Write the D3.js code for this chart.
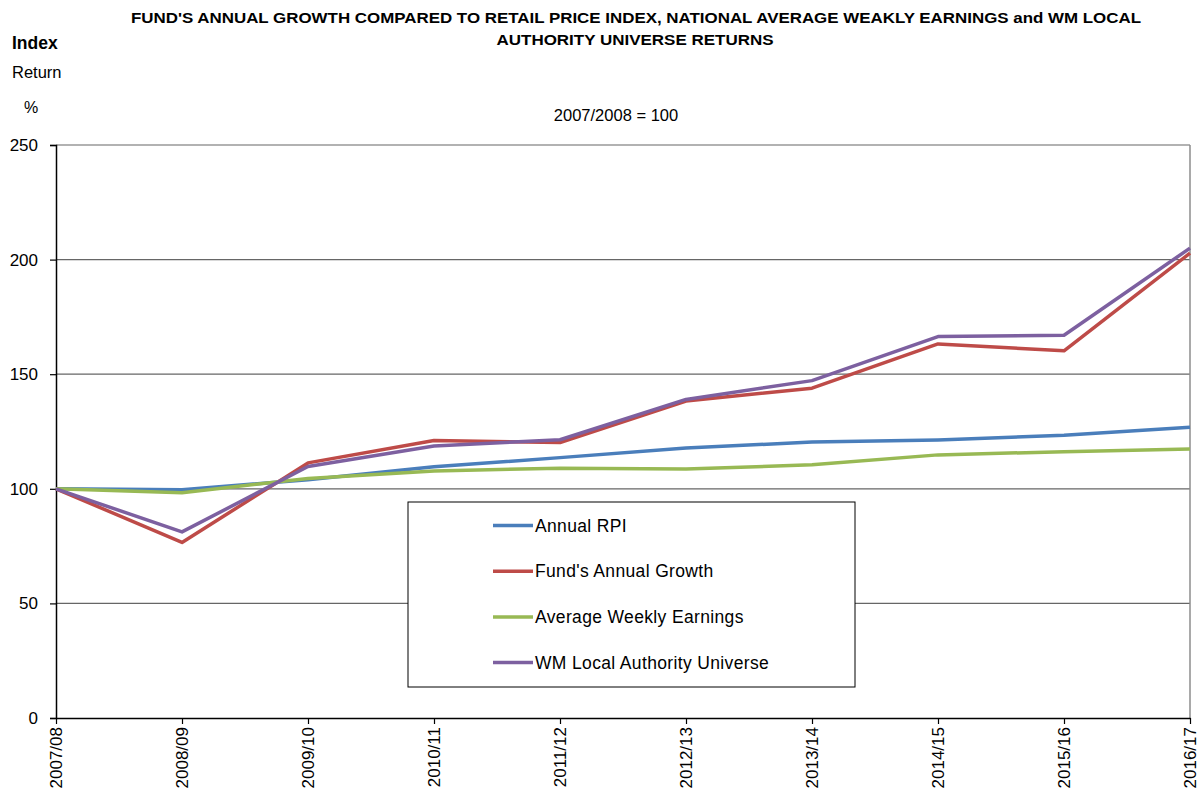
<!DOCTYPE html>
<html><head><meta charset="utf-8">
<script src="https://cdn.jsdelivr.net/npm/d3@7"></script>
<style>body{margin:0;background:#fff;}svg{display:block;font-family:"Liberation Sans",Arial,sans-serif;}</style>
</head><body>
<svg id="c" width="1201" height="791"></svg>
<script>
const categories = ["2007/08","2008/09","2009/10","2010/11","2011/12","2012/13","2013/14","2014/15","2015/16","2016/17"];
const rpi  = [100, 99.6, 104.0, 109.6, 113.6, 117.8, 120.4, 121.3, 123.4, 126.9];
const fund = [100, 76.6, 111.3, 121.1, 120.2, 138.3, 143.9, 163.2, 160.2, 202.8];
const awe  = [100, 98.3, 104.5, 107.8, 109.0, 108.6, 110.5, 114.8, 116.2, 117.4];
const wm   = [100, 81.2, 109.7, 118.7, 121.4, 139.0, 147.2, 166.4, 167.0, 205.0];
const yTicks = [0, 50, 100, 150, 200, 250];
const seriesNames = ["Annual RPI","Fund's Annual Growth","Average Weekly Earnings","WM Local Authority Universe"];
const seriesColors = ["#4A7EBB","#BE4B48","#98B954","#7D60A0"];
const seriesData = [rpi, fund, awe, wm];

const svg = d3.select("#c");
const L = 56, R = 1190, T = 145, B = 718;
const x = d3.scalePoint().domain(categories).range([L, R]);
const y = d3.scaleLinear().domain([0, 250]).range([B, T]);

// gridlines
svg.append("g").selectAll("line").data(yTicks.filter(d => d > 0)).join("line")
  .attr("x1", L).attr("x2", R).attr("y1", d => y(d)).attr("y2", d => y(d))
  .attr("stroke", "#666").attr("stroke-width", 1.2);
// right border
svg.append("line").attr("x1", R).attr("x2", R).attr("y1", T).attr("y2", B)
  .attr("stroke", "#8c8c8c").attr("stroke-width", 1.5);

// y axis
const ya = svg.append("g").attr("transform", `translate(${L},0)`)
  .call(d3.axisLeft(y).tickValues(yTicks).tickSize(6).tickPadding(12));
ya.select(".domain").attr("stroke", "#000").attr("stroke-width", 1.5);
ya.selectAll(".tick line").attr("stroke", "#000").attr("stroke-width", 1.2);
ya.selectAll("text").attr("font-size", 17).attr("fill", "#000").attr("font-family", "Liberation Sans, Arial, sans-serif");

// x axis
const xa = svg.append("g").attr("transform", `translate(0,${B})`)
  .call(d3.axisBottom(x).tickSize(6).tickSizeOuter(0));
xa.select(".domain").attr("stroke", "#000").attr("stroke-width", 1.5);
xa.selectAll(".tick line").attr("stroke", "#000").attr("stroke-width", 1.2);
xa.selectAll("text").attr("font-size", 17).attr("fill", "#000")
  .attr("font-family", "Liberation Sans, Arial, sans-serif")
  .attr("transform", "rotate(-90)").attr("text-anchor", "end")
  .attr("x", -9).attr("y", 0).attr("dy", "0.35em");

// lines
const line = d3.line().x((d, i) => x(categories[i])).y(d => y(d));
seriesData.forEach((s, k) => {
  svg.append("path").datum(s).attr("d", line).attr("fill", "none")
    .attr("stroke", seriesColors[k]).attr("stroke-width", 3.5).attr("stroke-linejoin", "round");
});

// legend
const lg = svg.append("g");
lg.append("rect").attr("x", 408).attr("y", 502).attr("width", 447).attr("height", 185)
  .attr("fill", "#fff").attr("stroke", "#000").attr("stroke-width", 1);
seriesNames.forEach((n, k) => {
  const yy = 525.5 + k * 45.7;
  lg.append("line").attr("x1", 493).attr("x2", 533).attr("y1", yy).attr("y2", yy)
    .attr("stroke", seriesColors[k]).attr("stroke-width", 3.5);
  lg.append("text").attr("x", 535).attr("y", yy).attr("dy", "0.35em")
    .attr("font-size", 17.5).attr("letter-spacing", 0.35).attr("fill", "#000").text(n);
});

// titles
svg.append("text").attr("x", 636).attr("y", 23).attr("text-anchor", "middle")
  .attr("font-size", 14.5).attr("font-weight", "bold").attr("textLength", 1010).attr("lengthAdjust", "spacingAndGlyphs")
  .text("FUND'S ANNUAL GROWTH COMPARED TO RETAIL PRICE INDEX, NATIONAL AVERAGE WEAKLY EARNINGS and WM LOCAL");
svg.append("text").attr("x", 635).attr("y", 45).attr("text-anchor", "middle")
  .attr("font-size", 14.5).attr("font-weight", "bold").attr("textLength", 277).attr("lengthAdjust", "spacingAndGlyphs")
  .text("AUTHORITY UNIVERSE RETURNS");
svg.append("text").attr("x", 12).attr("y", 49).attr("font-size", 17.5).attr("font-weight", "bold").text("Index");
svg.append("text").attr("x", 12).attr("y", 78).attr("font-size", 16.5).text("Return");
svg.append("text").attr("x", 24).attr("y", 113).attr("font-size", 16).text("%");
svg.append("text").attr("x", 616).attr("y", 121).attr("text-anchor", "middle").attr("font-size", 16.5).text("2007/2008 = 100");
</script>
</body></html>
